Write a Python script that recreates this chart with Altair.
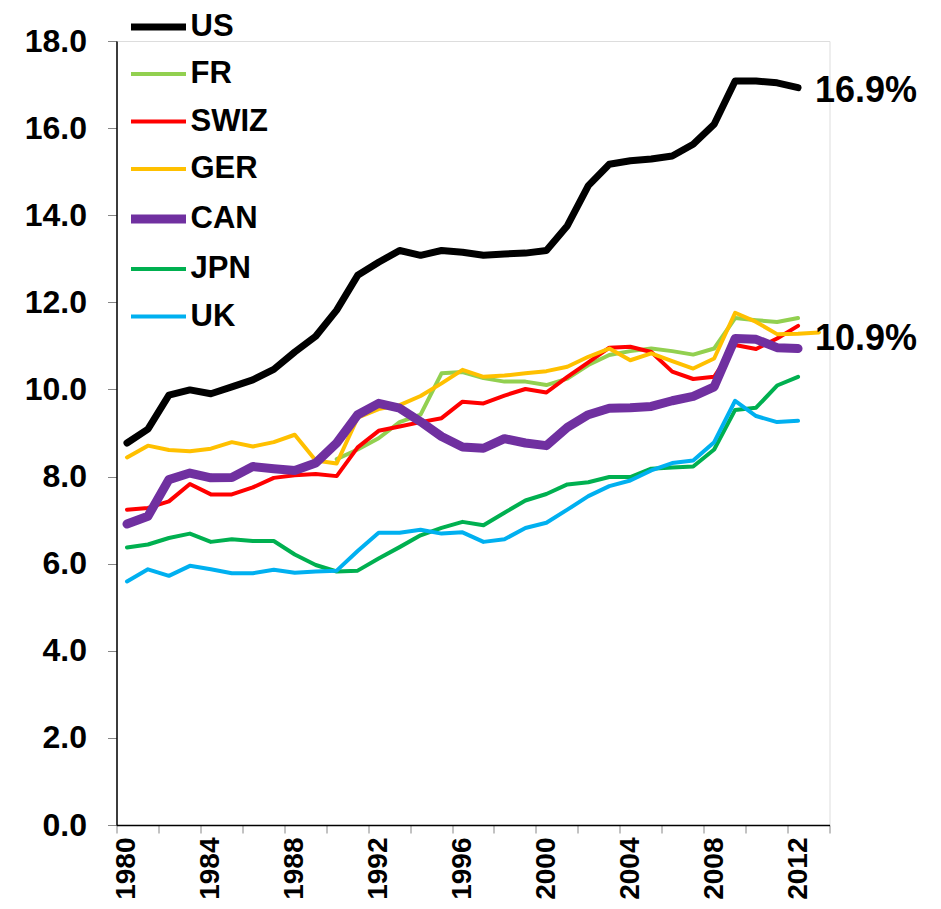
import altair as alt
import pandas as pd

FONT = "Liberation Sans"

# ---- data ----
countries = ["US", "FR", "SWIZ", "GER", "CAN", "JPN", "UK"]
colors = ["#000000", "#92D050", "#FF0000", "#FFC000", "#7030A0", "#00B050", "#00B0F0"]
widths = [7, 4, 4, 4, 9, 4, 4]
draw_order = ["FR", "SWIZ", "GER", "JPN", "UK", "CAN", "US"]

start_year = {"US": 1980, "FR": 1990, "SWIZ": 1980, "GER": 1980, "CAN": 1980, "JPN": 1980, "UK": 1980}

US = [8.77, 9.09, 9.87, 9.99, 9.90, 10.06, 10.22, 10.46, 10.86, 11.22, 11.82, 12.62, 12.92,
      13.19, 13.08, 13.19, 13.15, 13.08, 13.11, 13.13, 13.19, 13.76, 14.68, 15.17, 15.25,
      15.29, 15.36, 15.63, 16.09, 17.08, 17.08, 17.04, 16.93]
FR = [8.40, 8.62, 8.88, 9.25, 9.42, 10.37, 10.40, 10.26, 10.18, 10.18, 10.10, 10.25, 10.56,
      10.79, 10.88, 10.94, 10.88, 10.80, 10.94, 11.64, 11.59, 11.55, 11.64]
SWIZ = [7.24, 7.28, 7.43, 7.83, 7.59, 7.59, 7.75, 7.97, 8.03, 8.06, 8.01, 8.67, 9.05, 9.15,
        9.25, 9.34, 9.72, 9.68, 9.86, 10.01, 9.93, 10.29, 10.62, 10.96, 10.98, 10.86, 10.41,
        10.24, 10.29, 11.02, 10.93, 11.17, 11.46]
GER = [8.44, 8.71, 8.61, 8.58, 8.64, 8.79, 8.69, 8.79, 8.96, 8.37, 8.30, 9.35, 9.55, 9.64,
       9.85, 10.14, 10.45, 10.29, 10.32, 10.37, 10.42, 10.52, 10.75, 10.94, 10.67, 10.83,
       10.65, 10.48, 10.71, 11.76, 11.55, 11.27, 11.28, 11.31]
CAN = [6.91, 7.09, 7.93, 8.08, 7.97, 7.98, 8.23, 8.18, 8.14, 8.31, 8.77, 9.42, 9.68, 9.57,
       9.26, 8.92, 8.68, 8.65, 8.87, 8.77, 8.71, 9.13, 9.42, 9.57, 9.58, 9.61, 9.74, 9.84,
       10.06, 11.17, 11.15, 10.96, 10.94]
JPN = [6.37, 6.44, 6.59, 6.69, 6.50, 6.56, 6.52, 6.52, 6.21, 5.97, 5.82, 5.84, 6.12, 6.38,
       6.65, 6.82, 6.96, 6.88, 7.17, 7.45, 7.60, 7.82, 7.87, 7.99, 7.99, 8.18, 8.21, 8.23,
       8.62, 9.53, 9.58, 10.09, 10.29]
UK = [5.59, 5.87, 5.72, 5.95, 5.87, 5.78, 5.78, 5.86, 5.79, 5.82, 5.84, 6.29, 6.71, 6.71,
      6.78, 6.69, 6.72, 6.50, 6.56, 6.82, 6.94, 7.24, 7.55, 7.78, 7.91, 8.14, 8.31, 8.37,
      8.79, 9.74, 9.39, 9.25, 9.28]

values = {"US": US, "FR": FR, "SWIZ": SWIZ, "GER": GER, "CAN": CAN, "JPN": JPN, "UK": UK}

y_ticks = [0, 2, 4, 6, 8, 10, 12, 14, 16, 18]

ann_years = [2012, 2012]
ann_values = [16.9, 10.9]
ann_labels = ["16.9%", "10.9%"]

# ---- build tables ----
rows = []
for c in countries:
    for i, v in enumerate(values[c]):
        rows.append({"country": c, "year": start_year[c] + i, "value": v})
df = pd.DataFrame(rows)
ann = pd.DataFrame({"year": ann_years, "value": ann_values, "label": ann_labels})

W, H = 713, 784
n_cat = 34

xscale = alt.Scale(domain=[1979.5, 2013.5], nice=False, zero=False)
yscale = alt.Scale(domain=[0, 18], nice=False, zero=True)

xaxis = alt.Axis(
    values=[1979.5 + i for i in range(n_cat + 1)],
    labelExpr="(datum.value + 0.5) % 4 == 0 ? format(datum.value + 0.5, 'd') : ''",
    labelAngle=-90, labelOffset=W / n_cat / 2, labelFont=FONT, labelFontSize=28,
    labelFontWeight="bold", labelColor="black", tickColor="#868686", tickSize=8,
    labelPadding=4, domainColor="black", domainWidth=1.5, grid=False, title=None,
    labelOverlap=False, labelFlush=False, labelBound=False,
)
yaxis = alt.Axis(
    values=y_ticks, format=".1f", labelFont=FONT, labelFontSize=32, labelFontWeight="bold",
    labelColor="black", tickColor="#868686", tickSize=9, labelPadding=21,
    domainColor="black", domainWidth=1.5, grid=False, title=None, labelOverlap=False,
    labelFlush=False,
)
legend = alt.Legend(
    title=None, orient="none", legendX=10, legendY=-45, symbolType="stroke",
    symbolSize=3025, labelFont=FONT, labelFontSize=31, labelFontWeight="bold",
    labelColor="black", labelOffset=0, rowPadding=2.5, padding=0, labelLimit=300,
)

base = alt.Chart(df)
layers = []
for c in draw_order:
    layers.append(
        base.transform_filter(alt.datum.country == c)
        .mark_line(strokeJoin="round", strokeCap="round")
        .encode(
            x=alt.X("year:Q", scale=xscale, axis=xaxis),
            y=alt.Y("value:Q", scale=yscale, axis=yaxis),
            color=alt.Color("country:N", scale=alt.Scale(domain=countries, range=colors), legend=legend),
            strokeWidth=alt.StrokeWidth("country:N", scale=alt.Scale(type="ordinal", domain=countries, range=widths), legend=legend),
        )
    )

text_base = alt.Chart(ann)
texts = []
for i, dy in enumerate([2, -11]):
    texts.append(
        text_base.transform_filter(alt.datum.label == ann_labels[i])
        .mark_text(align="left", baseline="middle", dx=17, dy=dy, font=FONT, fontSize=36,
                   fontWeight="bold", color="black")
        .encode(x=alt.X("year:Q", scale=xscale), y=alt.Y("value:Q", scale=yscale), text="label:N")
    )

chart = (
    alt.layer(*layers, *texts)
    .properties(
        width=W, height=H,
        autosize=alt.AutoSizeParams(type="none"),
        padding={"left": 108.5, "top": 33, "right": 103.5, "bottom": 76},
    )
    .configure_view(stroke=None)
    .configure(font=FONT)
)

chart.save("out.html", embed_options={"renderer": "svg", "actions": False})
